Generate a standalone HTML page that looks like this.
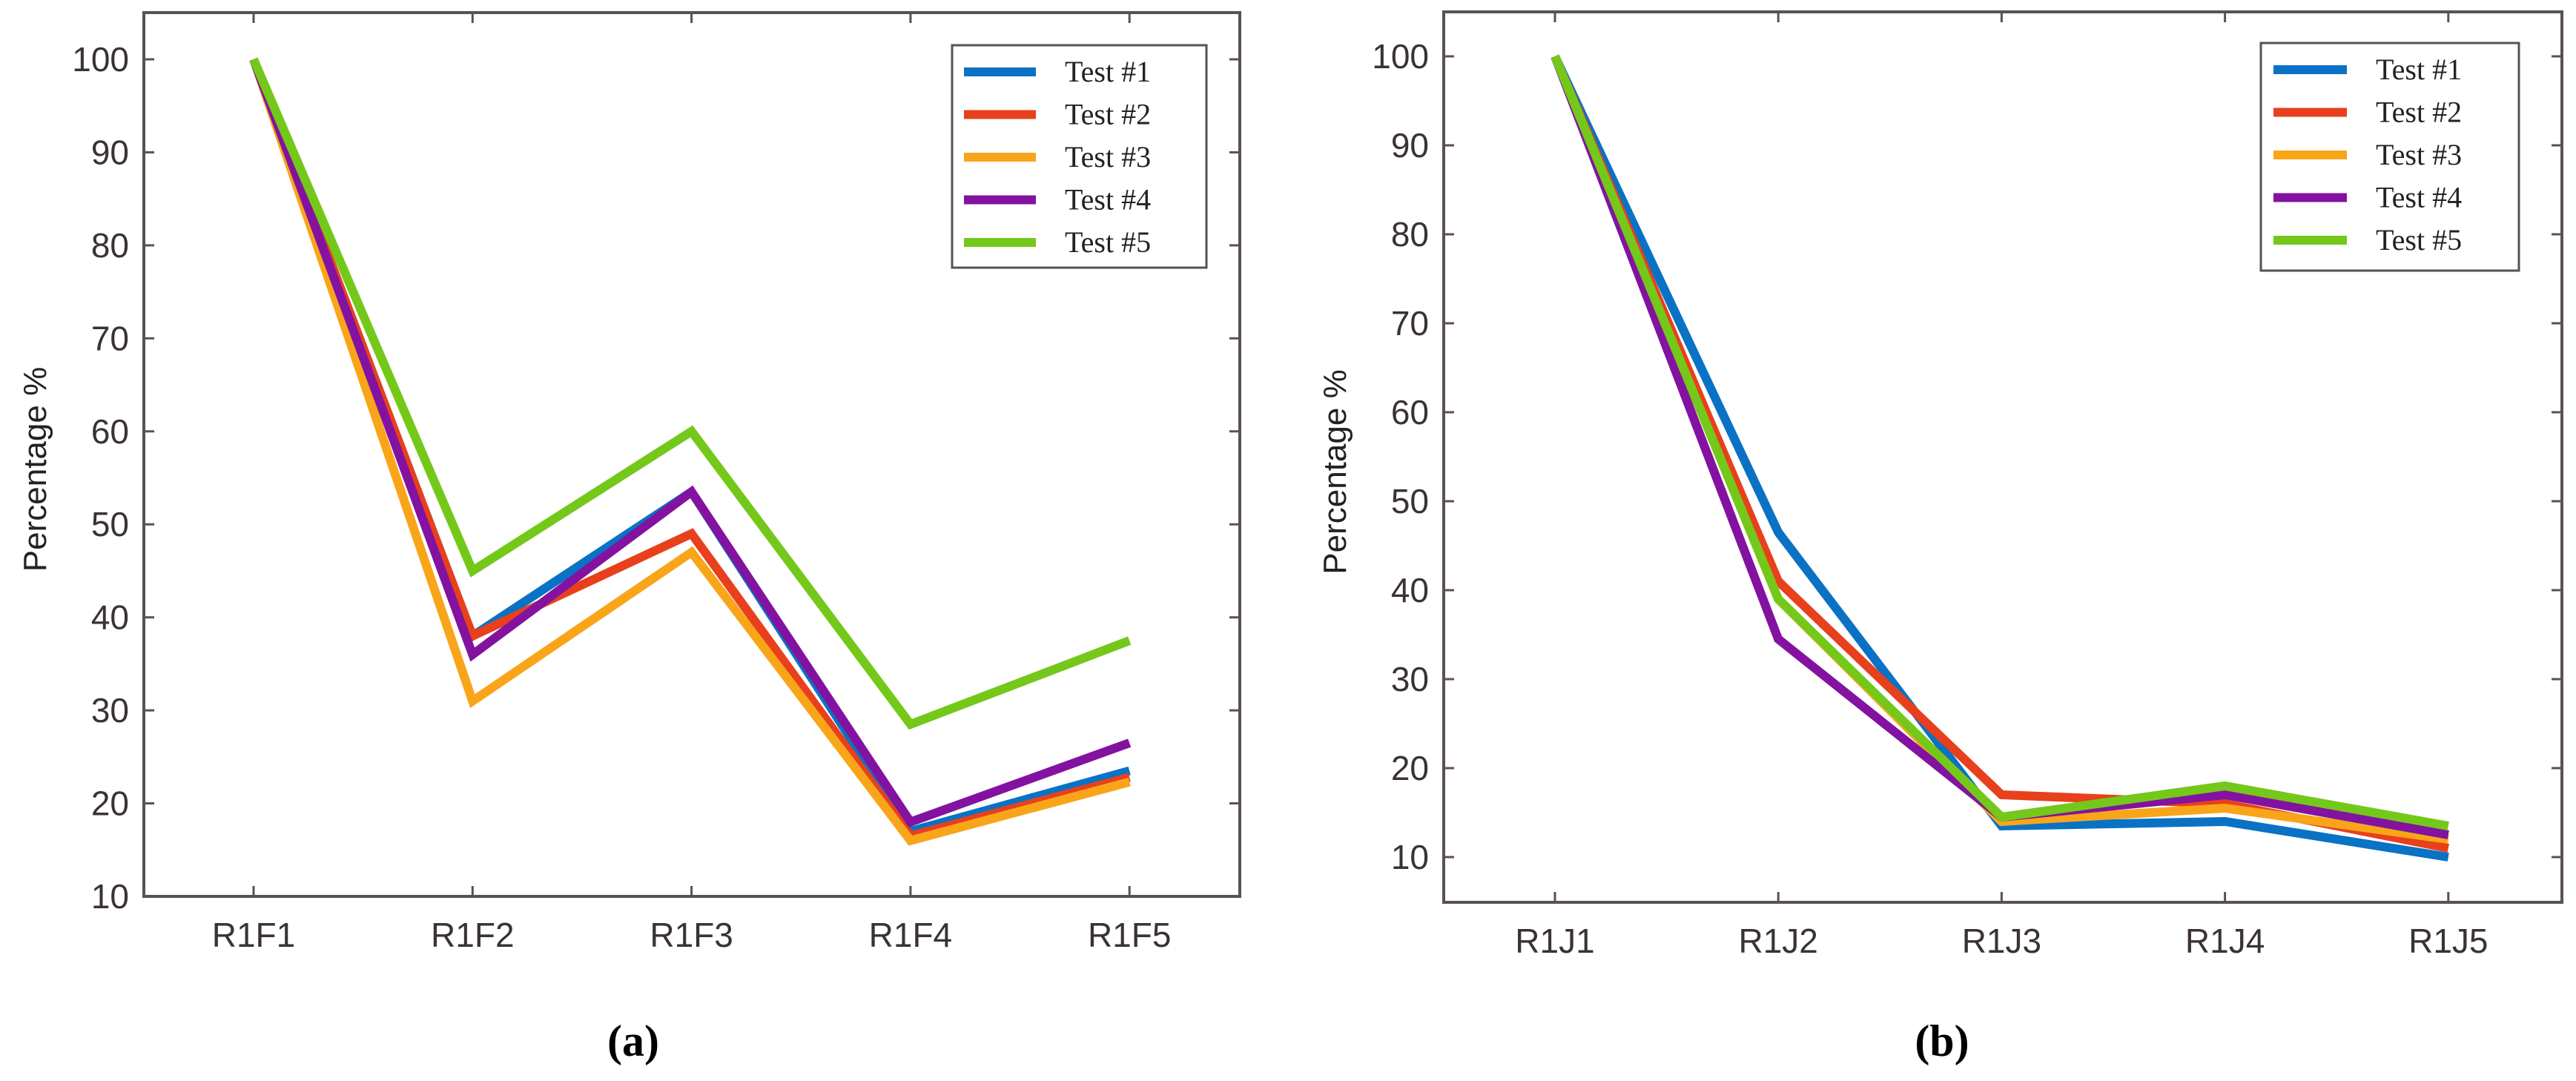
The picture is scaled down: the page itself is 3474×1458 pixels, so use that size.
<!DOCTYPE html>
<html><head><meta charset="utf-8"><style>
html,body{margin:0;padding:0;background:#fff;}
svg{display:block;}
</style></head><body>
<svg id="fig" width="3474" height="1458" viewBox="0 0 3474 1458" xmlns="http://www.w3.org/2000/svg"></svg>
<script>
const catsA = ["R1F1","R1F2","R1F3","R1F4","R1F5"];
const catsB = ["R1J1","R1J2","R1J3","R1J4","R1J5"];
const yTicks = [10,20,30,40,50,60,70,80,90,100];
const seriesNames = ["Test #1","Test #2","Test #3","Test #4","Test #5"];
const a1 = [100,38,53.5,17,23.5];
const a2 = [100,38,49,16.5,22.8];
const a3 = [100,31,47,16,22.3];
const a4 = [100,36,53.5,18,26.5];
const a5 = [100,45,60,28.5,37.5];
const b1 = [100,46.5,13.5,14,10];
const b2 = [100,41,17,16,11];
const b3 = [100,39,14,15.5,12];
const b4 = [100,34.5,14.5,17,12.5];
const b5 = [100,39,14.5,18,13.5];
const colors = ["#0a72c4","#e8401c","#f9a51a","#8312a0","#74c81a"];

const NS = "http://www.w3.org/2000/svg";
const svg = document.getElementById("fig");
function el(tag, attrs, parent){
  const e = document.createElementNS(NS, tag);
  for (const k in attrs) e.setAttribute(k, attrs[k]);
  (parent||svg).appendChild(e);
  return e;
}

function chart(cfg){
  const g = el("g", {});
  
  
  const {L,R,T,B,x0,dx,y100,y10,cats,data,leg,ylabX,capX,capText} = cfg;
  const yS = v => y10 + (v-10)*(y100-y10)/90;
  const xS = i => x0 + i*dx;
  // axes box
  const box = el("rect", {x:L,y:T,width:R-L,height:B-T,fill:"none",stroke:"#5a5058","stroke-width":4}, g);
  
  
  // y ticks
  yTicks.forEach(v=>{
    const y = yS(v);
    el("line",{x1:L,x2:L+14,y1:y,y2:y,stroke:"#5a5058","stroke-width":3},g);
    el("line",{x1:R-14,x2:R,y1:y,y2:y,stroke:"#5a5058","stroke-width":3},g);
    const t = el("text",{x:L-20,y:y+16,"text-anchor":"end","font-family":"Liberation Sans, sans-serif","font-size":46,fill:"#3a3238"},g);
    t.textContent = v;
    
    
  });
  cats.forEach((c,i)=>{
    const x = xS(i);
    el("line",{x1:x,x2:x,y1:B-14,y2:B,stroke:"#5a5058","stroke-width":3},g);
    el("line",{x1:x,x2:x,y1:T,y2:T+14,stroke:"#5a5058","stroke-width":3},g);
    const t = el("text",{x:x,y:B+68,"text-anchor":"middle","font-family":"Liberation Sans, sans-serif","font-size":46,fill:"#3a3238"},g);
    t.textContent = c;
    
    
  });
  // y label
  const yl = el("text",{x:0,y:0,transform:`translate(${ylabX},${(T+B)/2+20}) rotate(-90)`,"text-anchor":"middle","font-family":"Liberation Sans, sans-serif","font-size":44,fill:"#222"},g);
  yl.textContent = "Percentage %";
  
  
  // series
  data.forEach((s,k)=>{
    const pts = s.map((v,i)=>xS(i)+","+yS(v)).join(" ");
    const p = el("polyline",{points:pts,fill:"none",stroke:colors[k],"stroke-width":12,"stroke-linejoin":"miter"},g);
    
    
  });
  // legend
  const lg = el("g",{},g);
  
  
  el("rect",{x:leg.x,y:leg.y,width:leg.w,height:leg.h,fill:"#fff",stroke:"#5a5058","stroke-width":3},lg);
  seriesNames.forEach((n,k)=>{
    const y = leg.y + 36 + k*57.5;
    const ln = el("line",{x1:leg.lx1,x2:leg.lx2,y1:y,y2:y,stroke:colors[k],"stroke-width":12},lg);
    
    
    const t = el("text",{x:leg.tx,y:y+13,"font-family":"Liberation Serif, serif","font-size":40,fill:"#222"},lg);
    t.textContent = n;
    
    
  });
  const cap = el("text",{x:capX,y:1424,"text-anchor":"middle","font-family":"Liberation Serif, serif","font-size":60,"font-weight":"bold",fill:"#000"},g);
  cap.textContent = capText;
  
  
}

chart({name:"chart-a",L:194,R:1672,T:17,B:1209,x0:342,dx:295.3,y100:80,y10:1209,cats:catsA,
  data:[a1,a2,a3,a4,a5],leg:{x:1284,y:61,w:343,h:300,lx1:1300,lx2:1397,tx:1436},ylabX:62,capX:854,capText:"(a)"});
chart({name:"chart-b",L:1947,R:3455,T:16,B:1217,x0:2097,dx:301.2,y100:76,y10:1156,cats:catsB,
  data:[b1,b2,b3,b4,b5],leg:{x:3049,y:58,w:348,h:307,lx1:3066,lx2:3165,tx:3204},ylabX:1815,capX:2619,capText:"(b)"});
</script>
</body></html>
